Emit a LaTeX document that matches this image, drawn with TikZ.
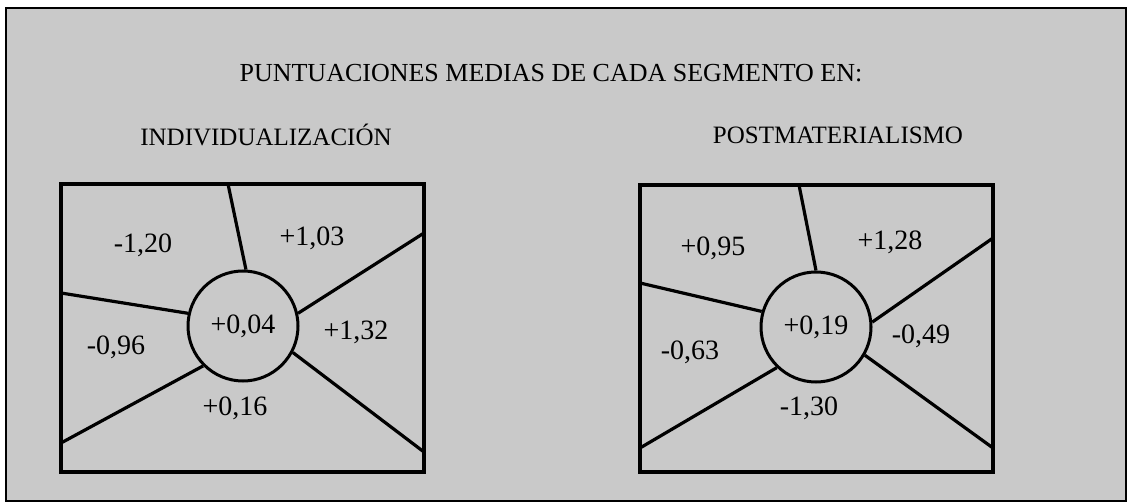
\documentclass[tikz,border=0pt]{standalone}
\usepackage{fontspec}
\setmainfont{Liberation Serif}
\usepackage{color}
\definecolor{screen}{gray}{0.79}

\begin{document}
\begin{tikzpicture}[x=1pt, y=-1pt,
             every node/.style = {draw=none, inner sep=0pt,
                                  font=\fontsize{28}{32}\selectfont},
             heading/.style={font=\fontsize{25}{29}\selectfont},
             seg/.style={line width=3.2pt},
             hub/.style={draw, shape=circle, line width=3pt, minimum size=110pt}]
\useasboundingbox (0,0) rectangle (1129,502);
\fill [screen] (6,8) rectangle (1126,501);
\draw [line width=1.5pt] (6,8) rectangle (1126,501);

\node [heading, font=\fontsize{26}{30}\selectfont] (title) at (551,73) {PUNTUACIONES MEDIAS DE CADA SEGMENTO EN:};
\node [heading] (indiv) at (266,135) {INDIVIDUALIZACIÓN};
\node [heading] (postm) at (838,135) {POSTMATERIALISMO};

% individualizacion
\draw [seg, line width=3.6pt] (61,184) rectangle (424,472);
\node [hub] (hubA) at (243,326) {+0,04};
\coordinate (a1) at (228,184);
\coordinate (a2) at (424,233);
\coordinate (a3) at (61,293);
\coordinate (a4) at (61,443);
\coordinate (a5) at (424,452);
\draw [seg] (hubA.87) -- (a1);
\draw [seg] (hubA.13) -- (a2);
\draw [seg] (hubA.167) -- (a3);
\draw [seg] (hubA.225) -- (a4);
\draw [seg] (hubA.-28) -- (a5);

\node (ia) at (143,245) {-1,20};
\node (ib) at (312,238) {+1,03};
\node (ic) at (356,332) {+1,32};
\node (id) at (116,347) {-0,96};
\node (ie) at (235,408) {+0,16};

% postmaterialismo
\draw [seg, line width=3.6pt] (640,185) rectangle (993,472);
\node [hub] (hubB) at (816,327) {+0,19};
\coordinate (b1) at (799,185);
\coordinate (b2) at (993,238);
\coordinate (b3) at (640,283);
\coordinate (b4) at (640,448);
\coordinate (b5) at (993,448);
\draw [seg] (hubB.90) -- (b1);
\draw [seg] (hubB.5) -- (b2);
\draw [seg] (hubB.164) -- (b3);
\draw [seg] (hubB.226) -- (b4);
\draw [seg] (hubB.-30) -- (b5);

\node (pa) at (713,248) {+0,95};
\node (pb) at (890,242) {+1,28};
\node (pc) at (921,336) {-0,49};
\node (pd) at (690,352) {-0,63};
\node (pe) at (809,408) {-1,30};

\end{tikzpicture}
\end{document}
